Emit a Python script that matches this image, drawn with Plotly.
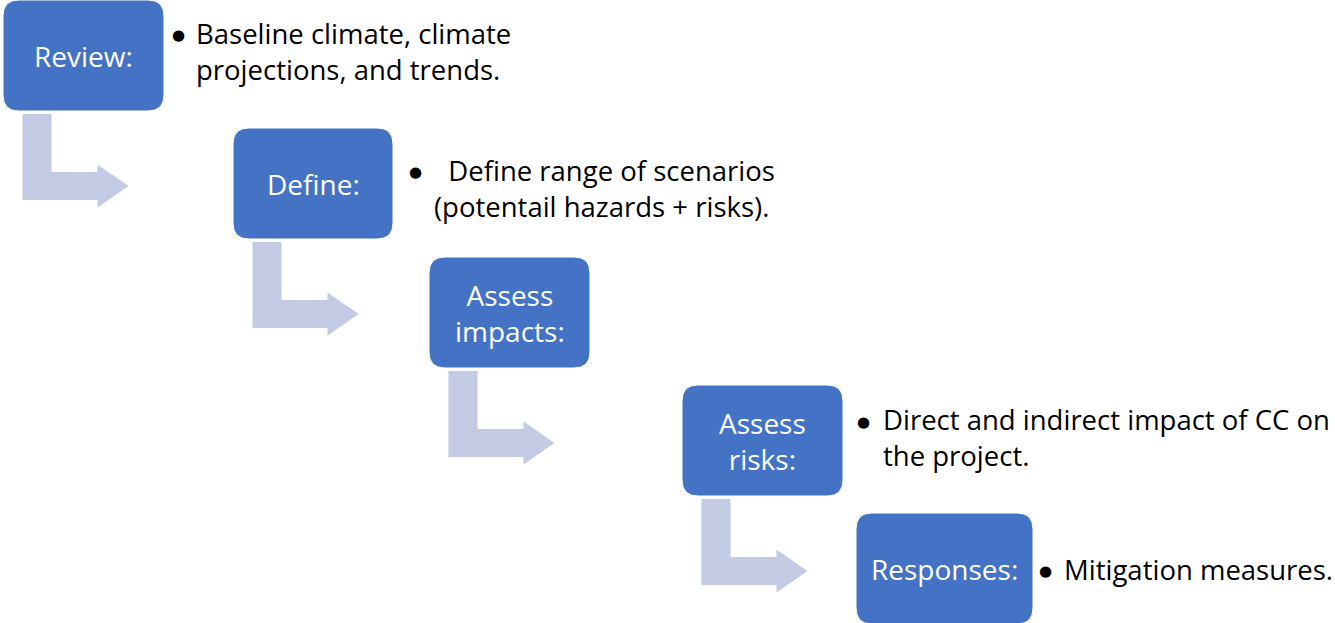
"""Climate risk assessment steps drawn as a stepped process diagram."""

import plotly.graph_objects as go

# step labels (one entry per text line inside each box)
STEP_LINES = [
    ["Review:"],
    ["Define:"],
    ["Assess", "impacts:"],
    ["Assess", "risks:"],
    ["Responses:"],
]

# bullet descriptions next to each box (empty list = no description)
DESC_LINES = [
    ["Baseline climate, climate", "projections, and trends."],
    ["Define range of scenarios", "(potentail hazards + risks)."],
    [],
    ["Direct and indirect impact of CC on", "the project."],
    ["Mitigation measures."],
]

# layout geometry, in page pixels (y grows downwards)
W, H = 1335, 623
BOX_X0 = [3, 233, 429, 682, 856]
BOX_Y0 = [0, 128, 257, 385, 513]
BOX_W = [161, 160, 161, 161, 177]
BOX_H = 111
RADIUS = 16

BULLET_X = [178, 415, None, 863, 1045]
TEXT_X = [195, 433, None, 882, 1063]
FIRST_PAD = [0, 2, 0, 0, 0]  # extra spaces before the first bullet line
DESC_BASE = [[46, 78], [183, 215], [], [432, 465], [580]]

BOX_COLOR = "#4472C4"
ARROW_COLOR = "#C2CAE4"
FONT = "'Open Sans', Lato, sans-serif"
BOX_SIZE = 28
DESC_SIZE = 27.5
LINE_SPACING = 1.3  # plotly's fixed line height for <br> text


def rounded_rect(x0, y0, x1, y1, r):
    return (
        f"M {x0 + r},{y0} L {x1 - r},{y0} Q {x1},{y0} {x1},{y0 + r} "
        f"L {x1},{y1 - r} Q {x1},{y1} {x1 - r},{y1} "
        f"L {x0 + r},{y1} Q {x0},{y1} {x0},{y1 - r} "
        f"L {x0},{y0 + r} Q {x0},{y0} {x0 + r},{y0} Z"
    )


def bent_arrow(sx, top):
    # stem 29 wide, 86 tall, then right with a triangular head
    bottom = top + 86
    shaft_top = bottom - 28
    mid = (shaft_top + bottom) / 2
    head_base, tip = sx + 75, sx + 106
    pts = [
        (sx, top), (sx, bottom), (head_base, bottom), (head_base, mid + 21.5),
        (tip, mid), (head_base, mid - 21.5), (head_base, shaft_top),
        (sx + 29, shaft_top), (sx + 29, top),
    ]
    return "M " + " L ".join(f"{x},{y}" for x, y in pts) + " Z"


fig = go.Figure()
shapes = []
annotations = []

for i, lines in enumerate(STEP_LINES):
    x0, y0 = BOX_X0[i], BOX_Y0[i]
    x1, y1 = x0 + BOX_W[i], y0 + BOX_H

    if i < len(STEP_LINES) - 1:
        shapes.append(dict(
            type="path", path=bent_arrow(x0 + 19.5, y1 + 3),
            fillcolor=ARROW_COLOR, line=dict(width=0), layer="below",
        ))

    shapes.append(dict(
        type="path", path=rounded_rect(x0, y0, x1, y1, RADIUS),
        fillcolor=BOX_COLOR, line=dict(color="white", width=1),
    ))

    annotations.append(dict(
        x=(x0 + x1) / 2, y=(y0 + y1) / 2, text="<br>".join(lines),
        showarrow=False, xanchor="center", yanchor="middle", align="center",
        borderpad=0,
        font=dict(family=FONT, size=BOX_SIZE, color="white"),
    ))

    desc = DESC_LINES[i]
    if not desc:
        continue
    base = DESC_BASE[i]
    centre = sum(base) / len(base) - 0.39 * DESC_SIZE
    first_base = centre + 0.39 * DESC_SIZE - (len(desc) - 1) / 2 * LINE_SPACING * DESC_SIZE
    annotations.append(dict(
        x=BULLET_X[i], y=first_base - 9, text="●",
        showarrow=False, xanchor="center", yanchor="middle", borderpad=0,
        font=dict(family="DejaVu Sans", size=15, color="black"),
    ))
    text = "\u00a0" * FIRST_PAD[i] + "<br>".join(desc)
    annotations.append(dict(
        x=TEXT_X[i], y=centre, text=text,
        showarrow=False, xanchor="left", yanchor="middle", align="left",
        borderpad=0,
        font=dict(family=FONT, size=DESC_SIZE, color="black"),
    ))

fig.update_layout(
    width=W,
    height=H,
    margin=dict(l=0, r=0, t=0, b=0),
    paper_bgcolor="white",
    plot_bgcolor="white",
    shapes=shapes,
    annotations=annotations,
    showlegend=False,
    xaxis=dict(range=[0, W], visible=False, fixedrange=True),
    yaxis=dict(range=[H, 0], visible=False, fixedrange=True),
)

fig.write_html(
    "out.html",
    config={"displayModeBar": False},
    post_script="document.body.style.margin = '0px';",
)
